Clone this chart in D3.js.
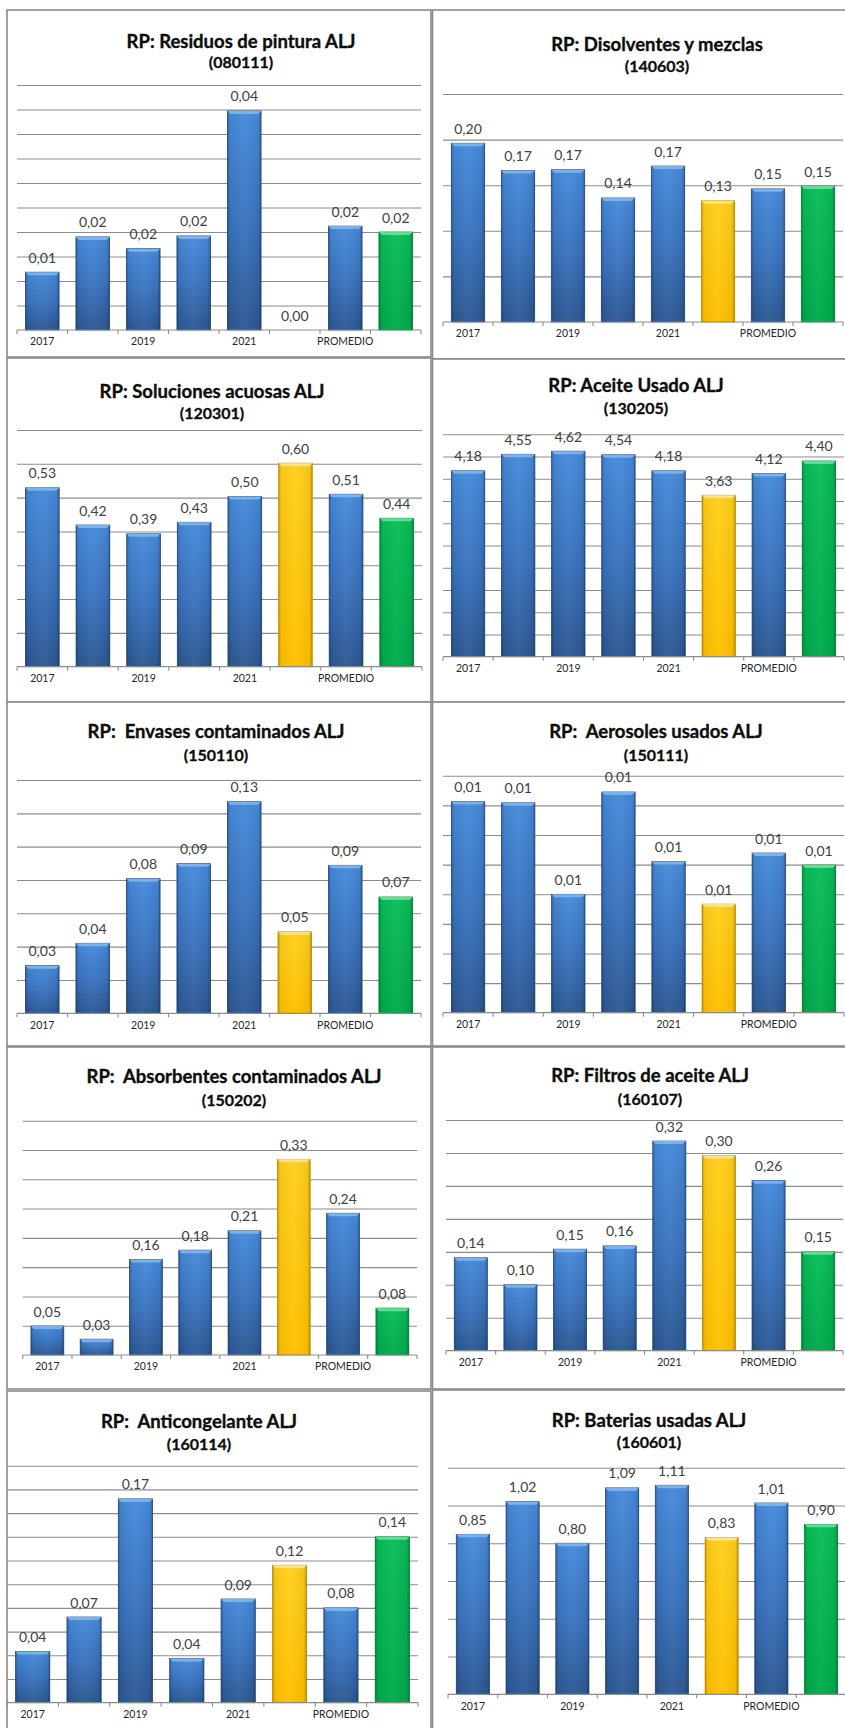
<!DOCTYPE html>
<html>
<head>
<meta charset="utf-8">
<script src="https://cdn.jsdelivr.net/npm/d3@7"></script>
<style>
  html, body { margin: 0; padding: 0; background: #ffffff; }
  svg { display: block; }
  text { font-family: Lato, "Open Sans", sans-serif; }
</style>
</head>
<body>
<svg id="chart" width="845" height="1728"></svg>
<script>
// ---------------- DATA ----------------
const categories = ["2017", "2018", "2019", "2020", "2021", "2022", "PROMEDIO", "OBJETIVO"];
const shownTickLabels = ["2017", "2019", "2021", "PROMEDIO"];
const barKinds = ["year", "year", "year", "year", "year", "current", "average", "target"];

const chartTitles = [
  "RP: Residuos de pintura ALJ",
  "RP: Disolventes y mezclas",
  "RP: Soluciones acuosas ALJ",
  "RP: Aceite Usado ALJ",
  "RP:  Envases contaminados ALJ",
  "RP:  Aerosoles usados ALJ",
  "RP:  Absorbentes contaminados ALJ",
  "RP: Filtros de aceite ALJ",
  "RP:  Anticongelante ALJ",
  "RP: Baterias usadas ALJ"
];
const chartCodes = ["(080111)", "(140603)", "(120301)", "(130205)", "(150110)",
                    "(150111)", "(150202)", "(160107)", "(160114)", "(160601)"];

const residuosPintura     = [0.0118, 0.0190, 0.0166, 0.0192, 0.0447, 0.0000, 0.0212, 0.0200];
const disolventes         = [0.196, 0.166, 0.167, 0.136, 0.171, 0.133, 0.146, 0.149];
const solucionesAcuosas   = [0.529, 0.419, 0.393, 0.427, 0.503, 0.602, 0.510, 0.439];
const aceiteUsado         = [4.18, 4.55, 4.62, 4.54, 4.18, 3.63, 4.12, 4.40];
const envasesContaminados = [0.0286, 0.0420, 0.0808, 0.0898, 0.1270, 0.0490, 0.0888, 0.0698];
const aerosolesUsados     = [0.01426, 0.01417, 0.00799, 0.01490, 0.01020, 0.00733, 0.01078, 0.00997];
const absorbentes         = [0.0495, 0.0270, 0.163, 0.179, 0.212, 0.334, 0.242, 0.080];
const filtrosAceite       = [0.141, 0.100, 0.154, 0.159, 0.318, 0.296, 0.258, 0.150];
const anticongelante      = [0.0433, 0.0723, 0.172, 0.0374, 0.0875, 0.116, 0.080, 0.140];
const baterias            = [0.847, 1.020, 0.800, 1.093, 1.107, 0.831, 1.013, 0.900];

const seriesList = [residuosPintura, disolventes, solucionesAcuosas, aceiteUsado,
                    envasesContaminados, aerosolesUsados, absorbentes, filtrosAceite,
                    anticongelante, baterias];
// y-axis maximum and gridline step of each chart
const axisMax  = [0.05, 0.25, 0.70, 5.0, 0.14, 0.016, 0.40, 0.35, 0.20, 1.2];
const axisStep = [0.005, 0.05, 0.10, 0.5, 0.02, 0.002, 0.05, 0.05, 0.02, 0.2];

// ---------------- LAYOUT ----------------
const layout = [
  {box:[7,10,431,357],    plot:[17,85,421,330],        tx:241, ty:48,    sy:68},
  {box:[432.5,10,850,359],plot:[443,94,843,322],       tx:657, ty:50.5,  sy:72},
  {box:[7,358,431,702],   plot:[17,430,422,666.7],     tx:212, ty:397.5, sy:419},
  {box:[432.5,359,850,702],plot:[443,434.3,844,656.7], tx:636, ty:391.5, sy:414},
  {box:[7,702,431,1046],  plot:[17,780,421,1013.3],    tx:216, ty:738,   sy:760.5},
  {box:[432.5,702,850,1046],plot:[443,775.7,844,1012.7],tx:656, ty:738,  sy:760.5},
  {box:[7,1047,431,1389], plot:[22.7,1120.7,417,1355], tx:234, ty:1083,  sy:1105.5},
  {box:[432.5,1047,850,1389],plot:[446,1120,843,1350.7],tx:650, ty:1082, sy:1104.5},
  {box:[7,1391,431,1740], plot:[7,1465.7,418,1702.7],  tx:199, ty:1428,  sy:1449.5},
  {box:[432.5,1390,850,1740],plot:[448,1467.7,846,1694.3],tx:649, ty:1426.5, sy:1448}
];

const fmt = v => d3.format(".2f")(v).replace(".", ",");

const svg = d3.select("#chart");
const defs = svg.append("defs");

function vGrad(id, stops) {
  const g = defs.append("linearGradient").attr("id", id)
    .attr("x1", 0).attr("y1", 0).attr("x2", 0).attr("y2", 1);
  stops.forEach(s => g.append("stop").attr("offset", s[0]).attr("stop-color", s[1]));
}
vGrad("gBlue",  [[0, "#468ada"], [0.5, "#3a74c0"], [1, "#2c5893"]]);
vGrad("gYellow",[[0, "#ffcf1a"], [1, "#ffc000"]]);
vGrad("gGreen", [[0, "#08bd58"], [1, "#00aa4b"]]);
const hg = defs.append("linearGradient").attr("id", "gEdge")
  .attr("x1", 0).attr("y1", 0).attr("x2", 1).attr("y2", 0);
[[0, "#000", 0.25], [0.08, "#000", 0.04], [0.5, "#fff", 0.04], [0.92, "#000", 0.05], [1, "#000", 0.28]]
  .forEach(s => hg.append("stop").attr("offset", s[0]).attr("stop-color", s[1]).attr("stop-opacity", s[2]));

const kindStyle = {
  year:    {fill: "url(#gBlue)",   bevel: "#7db8f2", stroke: "#2a5188"},
  average: {fill: "url(#gBlue)",   bevel: "#7db8f2", stroke: "#2a5188"},
  current: {fill: "url(#gYellow)", bevel: "#ffe680", stroke: "#d9a400"},
  target:  {fill: "url(#gGreen)",  bevel: "#66e29a", stroke: "#00913f"}
};

seriesList.forEach((values, i) => {
  const L = layout[i];
  const [bx0, by0, bx1, by1] = L.box;
  const [px0, py0, px1, py1] = L.plot;
  const g = svg.append("g");

  // panel frame
  g.append("rect").attr("x", bx0).attr("y", by0)
    .attr("width", bx1 - bx0).attr("height", by1 - by0)
    .attr("fill", "#fff").attr("stroke", "#8a8a8a").attr("stroke-width", 1.6);

  // titles
  g.append("text").attr("x", L.tx).attr("y", L.ty).attr("text-anchor", "middle")
    .style("white-space", "pre").attr("xml:space", "preserve")
    .attr("font-size", 18.5).attr("font-weight", 700).attr("fill", "#0d0d0d")
    .attr("stroke", "#0d0d0d").attr("stroke-width", 0.35)
    .text(chartTitles[i]);
  g.append("text").attr("x", L.tx).attr("y", L.sy).attr("text-anchor", "middle")
    .attr("font-size", 16).attr("font-weight", 700).attr("fill", "#0d0d0d")
    .attr("stroke", "#0d0d0d").attr("stroke-width", 0.3)
    .text(chartCodes[i]);

  const x = d3.scaleBand().domain(categories).range([px0, px1])
    .paddingInner(1 / 3).paddingOuter(1 / 6);
  const y = d3.scaleLinear().domain([0, axisMax[i]]).range([py1, py0]);

  // gridlines
  const gridVals = d3.range(1, Math.round(axisMax[i] / axisStep[i]) + 1).map(k => k * axisStep[i]);
  g.append("g").attr("transform", `translate(${px0},0)`)
    .call(d3.axisLeft(y).tickValues(gridVals).tickSize(-(px1 - px0)).tickFormat(""))
    .call(a => a.select(".domain").remove())
    .call(a => a.selectAll(".tick line").attr("stroke", "#8c8c8c").attr("stroke-width", 1.1));

  // bars
  const bars = g.append("g").selectAll("g").data(categories.map((c, k) => ({c, v: values[k], kind: barKinds[k]})))
    .join("g");
  bars.filter(d => d.v > 0).each(function (d) {
    const s = kindStyle[d.kind];
    const bx = x(d.c), bw = x.bandwidth(), top = y(d.v), h = y(0) - y(d.v);
    const sel = d3.select(this);
    sel.append("rect").attr("x", bx).attr("y", top).attr("width", bw).attr("height", h)
      .attr("fill", s.fill).attr("stroke", s.stroke).attr("stroke-width", 0.8);
    sel.append("rect").attr("x", bx).attr("y", top).attr("width", bw).attr("height", h)
      .attr("fill", "url(#gEdge)");
    const bv = Math.min(3, h / 2);
    sel.append("path")
      .attr("d", `M${bx},${top}L${bx + bw},${top}L${bx + bw - bv},${top + bv}L${bx + bv},${top + bv}Z`)
      .attr("fill", s.bevel).attr("opacity", 0.9);
  });

  // value labels
  bars.append("text")
    .attr("x", d => x(d.c) + x.bandwidth() / 2)
    .attr("y", d => y(d.v) - 9.5)
    .attr("text-anchor", "middle").attr("font-size", 14).attr("fill", "#404040")
    .text(d => fmt(d.v));

  // x axis: baseline, boundary ticks, labels
  const boundaries = d3.range(categories.length + 1).map(k => px0 + k * x.step());
  g.append("line").attr("x1", px0).attr("x2", px1).attr("y1", py1).attr("y2", py1)
    .attr("stroke", "#8c8c8c").attr("stroke-width", 1.2);
  g.append("g").selectAll("line").data(boundaries).join("line")
    .attr("x1", d => d).attr("x2", d => d).attr("y1", py1).attr("y2", py1 + 4)
    .attr("stroke", "#8c8c8c").attr("stroke-width", 1.1);
  g.append("g").attr("transform", `translate(0,${py1})`)
    .call(d3.axisBottom(x).tickSize(0).tickPadding(8)
      .tickFormat(d => shownTickLabels.includes(d) ? d : ""))
    .call(a => a.select(".domain").remove())
    .call(a => a.selectAll("text").attr("font-family", "Lato, sans-serif")
      .attr("font-size", 10.5).attr("fill", "#262626"));
});
</script>
</body>
</html>
